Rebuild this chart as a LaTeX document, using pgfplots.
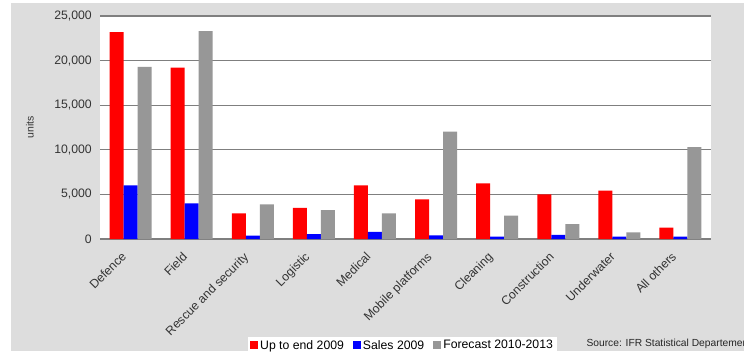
\documentclass[border=0pt]{standalone}
\usepackage{pgfplots}
\pgfplotsset{compat=1.18}
\usepackage{fontspec}
\setmainfont{Liberation Sans}
\definecolor{bg}{HTML}{DDDDDD}
\definecolor{gridc}{HTML}{7F7F7F}
\definecolor{graybar}{HTML}{979797}
\definecolor{redbar}{HTML}{FF0000}
\definecolor{bluebar}{HTML}{0000FF}
\begin{document}
\begin{tikzpicture}[x=1bp,y=1bp]
\useasboundingbox (0,0) rectangle (744,351);
\clip (0,0) rectangle (744,351);
\fill[bg] (11,0) rectangle (744,348);
\begin{axis}[
  at={(100bp,112bp)}, anchor=south west,
  scale only axis, width=611bp, height=223bp,
  xmin=-0.5, xmax=9.5, ymin=0, ymax=25000,
  ybar=0pt, bar width=14bp,
  axis background/.style={fill=white},
  axis line style={draw=none},
  ymajorgrids, grid style={gridc, line width=1.2bp},
  ytick={0,5000,10000,15000,20000,25000},
  xtick={0,...,9},
  xticklabels={Defence, Field, Rescue and security, Logistic, Medical, Mobile platforms, Cleaning, Construction, Underwater, All others},
  major tick length=0pt,
  scaled y ticks=false,
  /pgf/number format/assume math mode=true,
  /pgf/number format/fixed,
  /pgf/number format/1000 sep={,},
  tick label style={font=\fontsize{12.3}{14}\selectfont, text=black!80},
  yticklabel style={anchor=east, inner sep=0pt, xshift=-8bp},
  xticklabel style={rotate=45, anchor=north east, inner sep=0pt, yshift=-1.6bp, xshift=-15.6bp},
  ylabel={units},
  ylabel style={at={(axis description cs:-0.1146,0.5)}, anchor=center, font=\fontsize{10.5}{12}\selectfont, text=black!80},
  legend columns=3,
  legend style={at={(0.2422,-0.4395)}, anchor=north west, draw=none, fill=white,
    font=\fontsize{12.3}{14}\selectfont, inner xsep=2bp, inner ysep=1bp,
    /tikz/every even column/.append style={column sep=7bp}},
  legend image code/.code={\fill[#1] (0bp,-3.5bp) rectangle (8bp,4.5bp);},
]
\addplot[fill=redbar, draw=none] coordinates {(0,23200) (1,19200) (2,2880) (3,3500) (4,6000) (5,4450) (6,6240) (7,5010) (8,5420) (9,1270)};
\addplot[fill=bluebar, draw=none] coordinates {(0,6000) (1,4000) (2,370) (3,560) (4,800) (5,410) (6,260) (7,450) (8,260) (9,260)};
\addplot[fill=graybar, draw=none] coordinates {(0,19300) (1,23300) (2,3890) (3,3250) (4,2880) (5,12030) (6,2610) (7,1680) (8,750) (9,10310)};
\legend{Up to end 2009, Sales 2009, Forecast 2010-2013}
\end{axis}
\node[anchor=west, font=\fontsize{10.3}{12}\selectfont, text=black!85] at (583,7) {Source: IFR Statistical Departement};
\end{tikzpicture}
\end{document}
